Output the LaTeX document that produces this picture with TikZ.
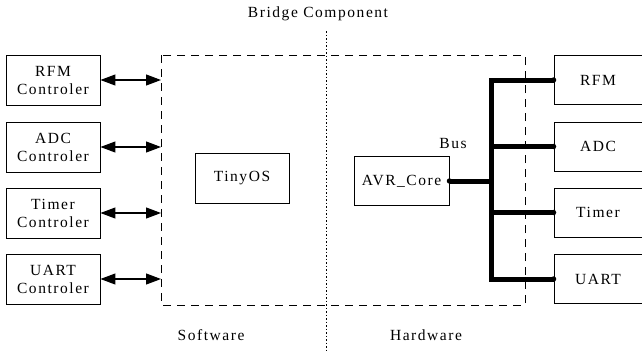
\documentclass[tikz,border=0pt]{standalone}
\usepackage{fontspec}
\setmainfont[LetterSpace=10]{Liberation Serif}
\usetikzlibrary{arrows.meta}
\begin{document}
\begin{tikzpicture}[x=1pt,y=-1pt,
  font=\fontsize{15.5}{18}\selectfont,
  blk/.style={draw,line width=0.9pt,inner sep=0pt,align=center},
  link/.style={line width=1.1pt,{Triangle[length=15pt,width=11pt]}-{Triangle[length=15pt,width=11pt]}},
  bus/.style={line width=5pt},
  zone/.style={draw,line width=0.8pt,dash pattern=on 8pt off 6pt},
  divider/.style={line width=0.8pt,dash pattern=on 1.5pt off 2pt},
  lbl/.style={inner sep=0pt}]
\useasboundingbox (0,0) rectangle (642,351);

% software / hardware split
\draw[divider] (326,31) -- (326,351);
\node[lbl] (title) at (318,14) {Bridge Component};
\node[lbl] (sw) at (211,335) {Software};
\node[lbl] (hw) at (426,335) {Hardware};

% bridge boundary
\draw[zone] (161,55) rectangle (525,305);
\coordinate (z1) at (161,80);
\coordinate (z2) at (161,147);
\coordinate (z3) at (161,213);
\coordinate (z4) at (161,279);

% controller drivers
\node[blk,minimum width=94pt,minimum height=50pt] (c1) at (53,80) {RFM\\Controler};
\node[blk,minimum width=94pt,minimum height=50pt] (c2) at (53,147) {ADC\\Controler};
\node[blk,minimum width=94pt,minimum height=50pt] (c3) at (53,213) {Timer\\Controler};
\node[blk,minimum width=94pt,minimum height=50pt] (c4) at (53,279) {UART\\Controler};
\foreach \i in {1,...,4} \draw[link] (c\i.east) -- (z\i);

\node[blk,minimum width=94pt,minimum height=50pt] (os) at (242,178) {TinyOS};
\node[blk,minimum width=95pt,minimum height=49pt] (core) at (401.5,181) {AVR\_Core};

% peripherals
\node[blk,minimum width=88pt,minimum height=49pt] (p1) at (598,80) {RFM};
\node[blk,minimum width=88pt,minimum height=49pt] (p2) at (598,146.5) {ADC};
\node[blk,minimum width=88pt,minimum height=49pt] (p3) at (598,212.5) {Timer};
\node[blk,minimum width=88pt,minimum height=49pt] (p4) at (598,279) {UART};

% system bus
\coordinate (bx) at (491,0);
\coordinate (b1) at (bx |- p1.west);
\coordinate (b4) at (bx |- p4.west);
\draw[bus] (core.east) -- (bx |- core.east);
\draw[bus,line cap=rect] (b1) -- (b4);
\foreach \i in {1,...,4} \draw[bus] (bx |- p\i.west) -- (p\i.west);
\foreach \i in {1,...,4} \fill (p\i.west) circle (2.7pt);
\fill (core.east) circle (2.7pt);
\node[lbl] (buslbl) at (453,143) {Bus};
\end{tikzpicture}
\end{document}
